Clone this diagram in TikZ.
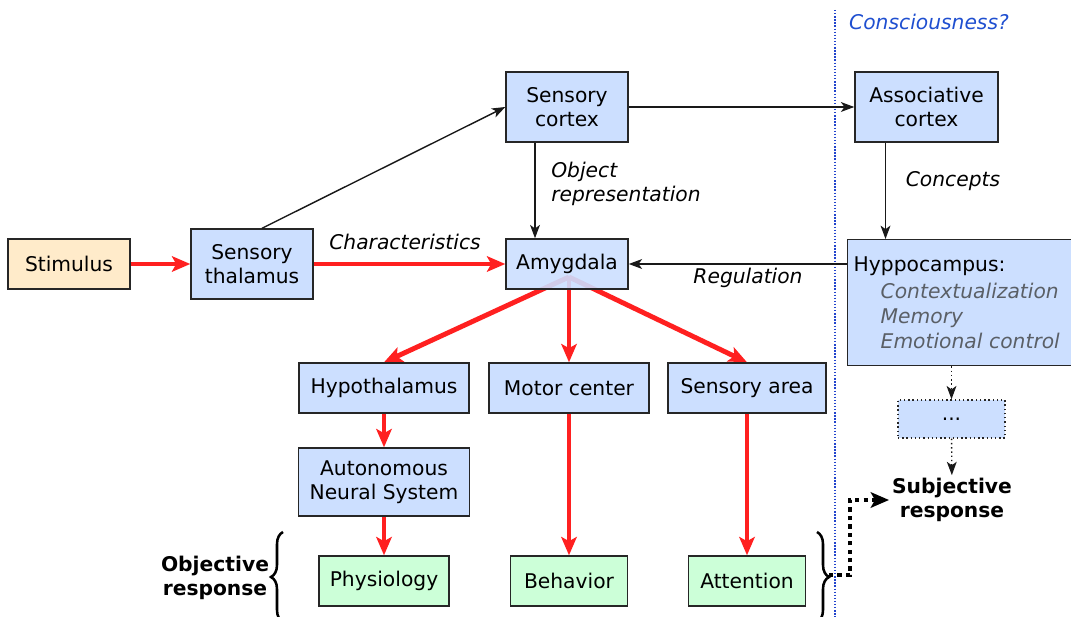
\documentclass[tikz,border=0pt]{standalone}
\usepackage{fontspec}
\setmainfont{DejaVu Sans}
\usetikzlibrary{arrows.meta,calc,decorations.pathreplacing,backgrounds}
\definecolor{boxblue}{HTML}{CCDFFF}
\definecolor{boxgreen}{HTML}{CCFFD8}
\definecolor{boxorange}{HTML}{FFEBCA}
\definecolor{arrowred}{HTML}{FF2020}
\definecolor{lineblue}{HTML}{2244CC}
\definecolor{textblue}{HTML}{1F4FD0}
\definecolor{itemgray}{HTML}{5A5F66}
\tikzset{
  box/.style={draw=black!85, line width=1pt, align=center, inner sep=0pt,
    font=\fontsize{14.4}{17}\selectfont},
  bluebox/.style={box, fill=boxblue},
  greenbox/.style={box, fill=boxgreen},
  orangebox/.style={box, fill=boxorange},
  lbl/.style={font=\fontsize{14.4}{17.5}\selectfont\itshape, inner sep=0pt},
  resp/.style={font=\fontsize{14.4}{17}\selectfont\bfseries, align=center, inner sep=2pt},
  redarrow/.style={draw=arrowred, line width=3.5pt, -{Stealth[length=13pt,width=11pt,inset=3pt]}},
  thinarrow/.style={draw=black!90, line width=1pt, -{Stealth[length=9.5pt,width=7pt,inset=2.5pt]}},
  dotarrow/.style={draw=black!90, line width=1pt, dotted, -{Stealth[length=9.5pt,width=7pt,inset=2.5pt]}},
  thickdots/.style={draw=black, line width=2.8pt, dash pattern=on 3pt off 3pt, -{Stealth[length=13pt,width=11pt,inset=3pt]}},
  bracedeco/.style={draw=black, line width=1.8pt, decorate, decoration={brace, amplitude=0.3cm}}
}

\begin{document}
\begin{tikzpicture}[x=0.025cm, y=-0.025cm]
	%%%%% boxes %%%%%
	\clip (0,0) rectangle (1071,617);
	
	\node[orangebox, minimum width=3.05cm, minimum height=1.25cm] (stim) at (69,264) {Stimulus};
	\node[bluebox, minimum width=3.05cm, minimum height=1.75cm] (thal) at (252,264) {Sensory\\thalamus};
	\node[bluebox, minimum width=3.05cm, minimum height=1.75cm] (sctx) at (567,107) {Sensory\\cortex};
	\node[bluebox, fill opacity=0.9, text opacity=1, minimum width=3.05cm, minimum height=1.25cm] (amy) at (567,264) {Amygdala};
	\node[bluebox, minimum width=3.575cm, minimum height=1.75cm] (actx) at (926.5,107) {Associative\\cortex};
	\node[bluebox, anchor=north west, align=left, text width=5.8cm, inner xsep=0.15cm, minimum height=3.15cm,
	      font=\fontsize{14.4}{17.7}\selectfont] (hippo) at (847,239)
	  {Hyppocampus:\\[2pt]
	   \hspace*{0.675cm}{\itshape\color{itemgray}Contextualization}\\
	   \hspace*{0.675cm}{\itshape\color{itemgray}Memory}\\
	   \hspace*{0.675cm}{\itshape\color{itemgray}Emotional control}};
	
	\node[bluebox, minimum width=4.25cm, minimum height=1.25cm] (hypo) at (384,388) {Hypothalamus};
	\node[bluebox, minimum width=4cm, minimum height=1.25cm] (motor) at (569,388) {Motor center};
	\node[bluebox, minimum width=3.95cm, minimum height=1.25cm] (sarea) at (747,388) {Sensory area};
	\node[bluebox, minimum width=4.275cm, minimum height=1.7cm] (ans) at (384,482) {Autonomous\\Neural System};
	
	\node[greenbox, minimum width=3.25cm, minimum height=1.25cm] (phys) at (384,581) {Physiology};
	\node[greenbox, minimum width=2.925cm, minimum height=1.25cm] (behav) at (569,581) {Behavior};
	\node[greenbox, minimum width=2.925cm, minimum height=1.25cm] (attn) at (747,581) {Attention};
	
	\node[bluebox, dotted, minimum width=2.675cm, minimum height=0.95cm] (etc) at (951.5,419) {...};
	
	%%%%% labels %%%%%
	\node[lbl] (charlbl) at (405,242) {Characteristics};
	\node[lbl, anchor=west, align=left] (objlbl) at (551,184) {Object\\representation};
	\node[lbl] (conclbl) at (953,181) {Concepts};
	\node[lbl] (reglbl) at (748,278) {Regulation};
	\node[lbl, text=textblue] (conslbl) at (929,22) {Consciousness?};
	\node[resp] (objresp) at (215,578) {Objective\\response};
	\node[resp] (subj) at (952,500) {Subjective\\response};
	
	\draw[lineblue, line width=1pt, dash pattern=on 1pt off 1.2pt] (835,10) -- (835,617);
	
	%%%%% connectors %%%%%
	\draw[redarrow] (stim) -- (thal);
	\draw[redarrow] (thal) -- (amy);
	\draw[thinarrow] ($(thal.north)+(10,0)$) -- (sctx.west);
	\draw[thinarrow] (sctx) -- (actx);
	\draw[thinarrow] ($(sctx.south)+(-32,0)$) -- ($(amy.north)+(-32,0)$);
	\coordinate (actxout) at ($(actx.south)+(-41,0)$);
	\draw[thinarrow] (actxout) -- (actxout |- hippo.north);
	\draw[thinarrow] (hippo.west |- amy) -- (amy.east);
	
	\coordinate (amyout) at ($(amy.center)+(2,13)$);
	\begin{pgfonlayer}{background}
	\draw[redarrow] (amyout) -- (hypo.north);
	\draw[redarrow] (amyout) -- (motor.north);
	\draw[redarrow] (amyout) -- (sarea.north);
	\end{pgfonlayer}
	
	\draw[redarrow] (hypo) -- (ans);
	\draw[redarrow] (ans) -- (phys);
	\draw[redarrow] (motor) -- (behav);
	\draw[redarrow] (sarea) -- (attn);
	
	\draw[dotarrow] (hippo.south -| etc) -- (etc);
	\draw[dotarrow] (etc) -- (subj);
	
	\draw[bracedeco] (283,622) -- (283,532);
	\draw[bracedeco] (817,532) -- (817,622);
	\coordinate (braceout) at (829,575);
	\draw[thickdots] (braceout) -- ++(21,0) |- (subj.west);
\end{tikzpicture}
\end{document}
